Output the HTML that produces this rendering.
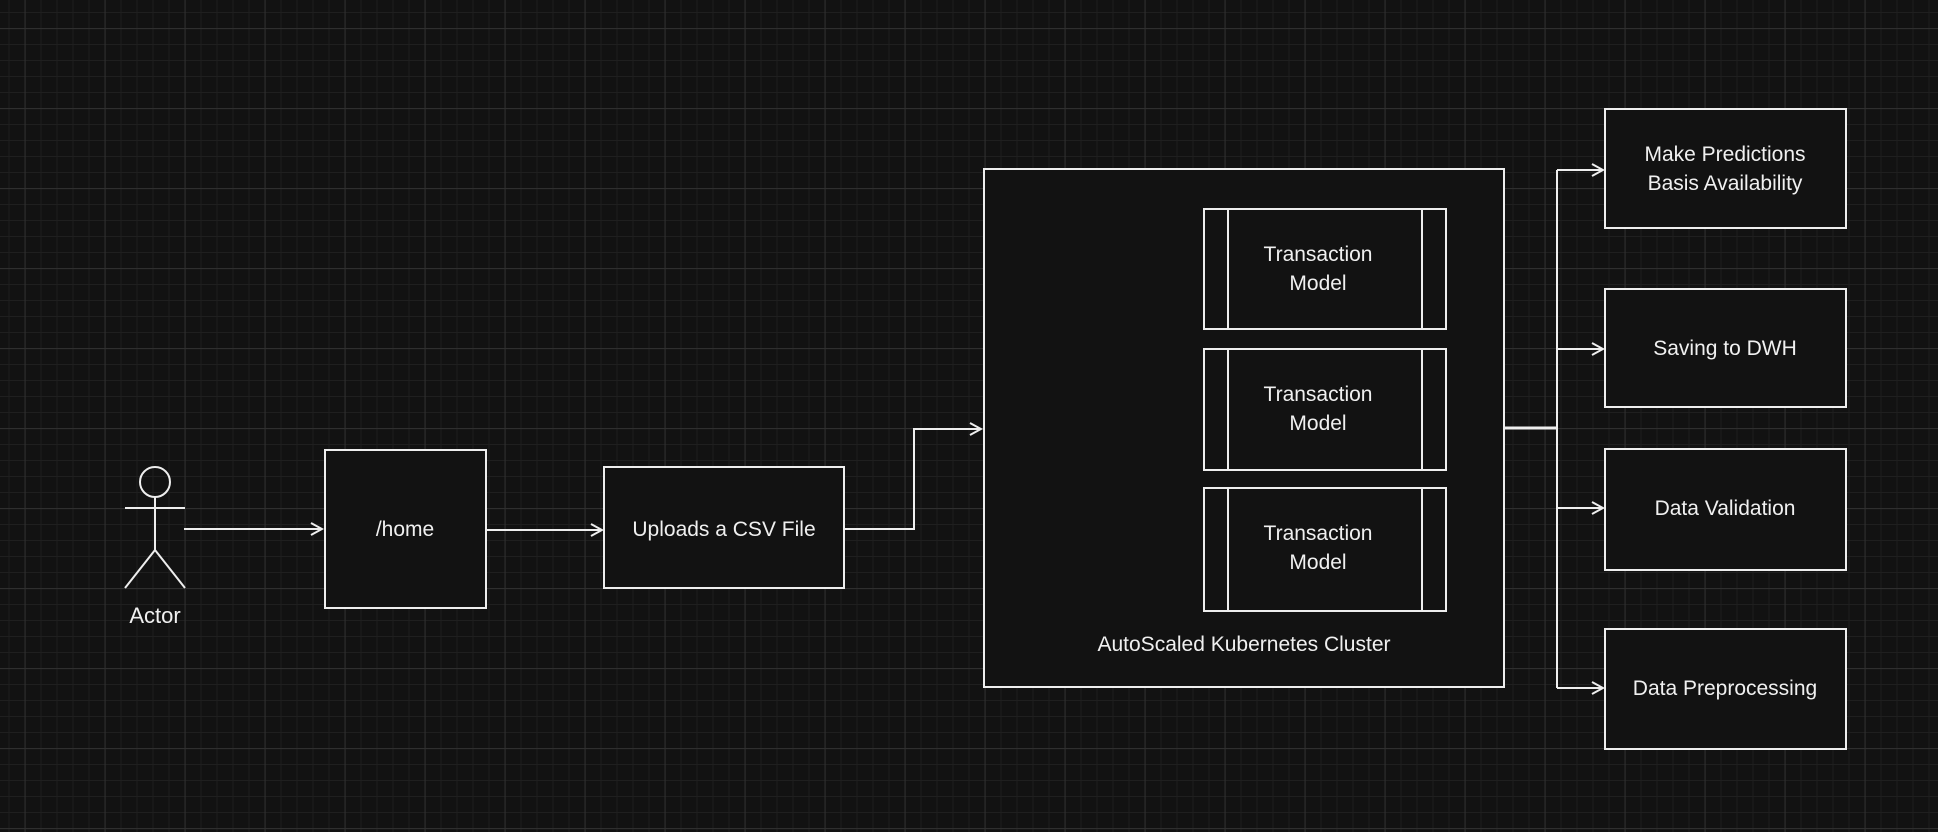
<!DOCTYPE html>
<html><head><meta charset="utf-8"><style>
html,body{margin:0;padding:0;background:#121212;}
svg{display:block}
text{font-family:"Liberation Sans",sans-serif;fill:#f0f0f0;}
</style></head><body>
<svg width="1938" height="832" viewBox="0 0 1938 832" xmlns="http://www.w3.org/2000/svg">
<defs>
<pattern id="minor" x="24.5" y="28" width="16" height="16" patternUnits="userSpaceOnUse">
<path d="M0.5 0V16M0 0.5H16" stroke="#1f1f1f" stroke-width="1" fill="none"/>
</pattern>
<pattern id="major" x="24.5" y="28" width="80" height="80" patternUnits="userSpaceOnUse">
<path d="M0.5 0V80M0 0.5H80" stroke="#2f2f2f" stroke-width="1.2" fill="none"/>
</pattern>
<marker id="ah" markerWidth="14" markerHeight="14" refX="12" refY="7" orient="auto" markerUnits="userSpaceOnUse">
<path d="M1 1L12 7L1 13" fill="none" stroke="#eee" stroke-width="2"/>
</marker>
</defs>
<rect width="1938" height="832" fill="#121212"/>
<rect width="1938" height="832" fill="url(#minor)"/>
<rect width="1938" height="832" fill="url(#major)"/>

<g stroke="#eee" stroke-width="2" fill="#121212">
<!-- actor -->
<circle cx="155" cy="482" r="15" fill="none"/>
<path d="M155 497V550M125 508H185M155 550L125 588M155 550L185 588" fill="none"/>
<!-- boxes -->
<rect x="325" y="450" width="161" height="158"/>
<rect x="604" y="467" width="240" height="121"/>
<rect x="984" y="169" width="520" height="518"/>
<rect x="1204" y="209" width="242" height="120"/>
<rect x="1204" y="349" width="242" height="121"/>
<rect x="1204" y="488" width="242" height="123"/>
<path d="M1228 209V329M1422 209V329M1228 349V470M1422 349V470M1228 488V611M1422 488V611" fill="none"/>
<rect x="1605" y="109" width="241" height="119"/>
<rect x="1605" y="289" width="241" height="118"/>
<rect x="1605" y="449" width="241" height="121"/>
<rect x="1605" y="629" width="241" height="120"/>
<!-- connectors -->
<path d="M184 529H322" fill="none" marker-end="url(#ah)"/>
<path d="M487 530H602" fill="none" marker-end="url(#ah)"/>
<path d="M845 529H914V429H981" fill="none" marker-end="url(#ah)"/>
<path d="M1505 428H1557" fill="none" stroke-width="3"/>
<path d="M1557 170V688" fill="none"/>
<path d="M1557 170H1603" fill="none" marker-end="url(#ah)"/>
<path d="M1557 349H1603" fill="none" marker-end="url(#ah)"/>
<path d="M1557 508H1603" fill="none" marker-end="url(#ah)"/>
<path d="M1557 688H1603" fill="none" marker-end="url(#ah)"/>
</g>

<g font-size="21" text-anchor="middle">
<text x="155" y="623" font-size="22">Actor</text>
<text x="405" y="536">/home</text>
<text x="724" y="536">Uploads a CSV File</text>
<text x="1318" y="261">Transaction</text><text x="1318" y="290">Model</text>
<text x="1318" y="401">Transaction</text><text x="1318" y="430">Model</text>
<text x="1318" y="540">Transaction</text><text x="1318" y="569">Model</text>
<text x="1244" y="651">AutoScaled Kubernetes Cluster</text>
<text x="1725" y="161">Make Predictions</text>
<text x="1725" y="190">Basis Availability</text>
<text x="1725" y="355">Saving to DWH</text>
<text x="1725" y="515">Data Validation</text>
<text x="1725" y="695">Data Preprocessing</text>
</g>
</svg>
</body></html>
